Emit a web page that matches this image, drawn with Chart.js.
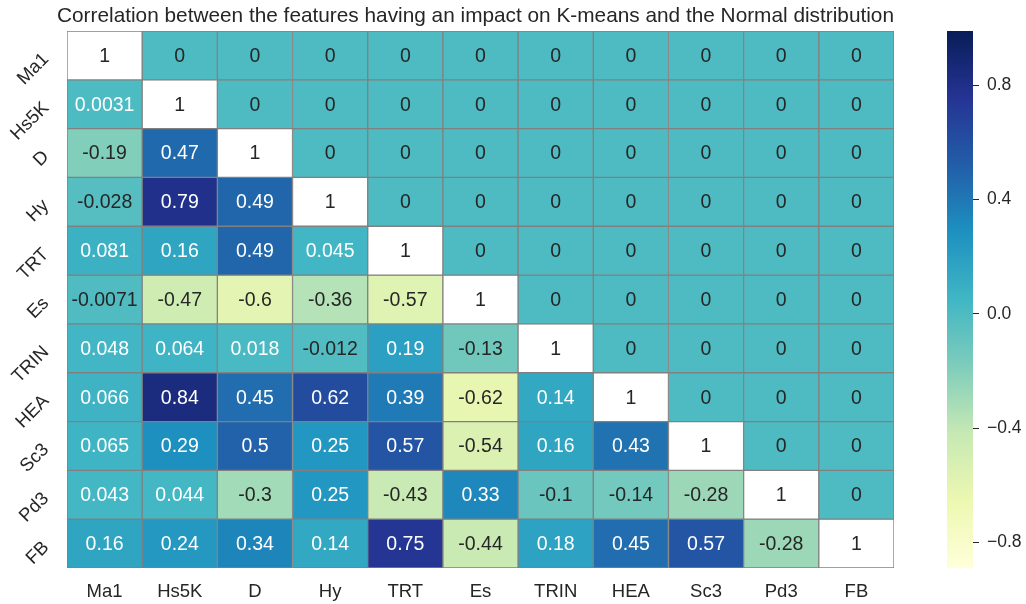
<!DOCTYPE html>
<html>
<head>
<meta charset="utf-8">
<script src="https://cdn.jsdelivr.net/npm/chart.js@4/dist/chart.umd.min.js"></script>
<style>
  html, body { margin: 0; padding: 0; background: #ffffff; }
  #wrap { position: relative; width: 1026px; height: 604px; overflow: hidden; }
  #heat { position: absolute; left: 0; top: 0; }
  #cbar { position: absolute; left: 900px; top: 0; }
</style>
</head>
<body>
<div id="wrap">
  <canvas id="heat" width="950" height="604"></canvas>
  <canvas id="cbar" width="126" height="604"></canvas>
</div>
<script>
// ---------------- DATA ----------------
const features = ["Ma1", "Hs5K", "D", "Hy", "TRT", "Es", "TRIN", "HEA", "Sc3", "Pd3", "FB"];

const rowMa1  = [1, 0, 0, 0, 0, 0, 0, 0, 0, 0, 0];
const rowHs5K = [0.0031, 1, 0, 0, 0, 0, 0, 0, 0, 0, 0];
const rowD    = [-0.19, 0.47, 1, 0, 0, 0, 0, 0, 0, 0, 0];
const rowHy   = [-0.028, 0.79, 0.49, 1, 0, 0, 0, 0, 0, 0, 0];
const rowTRT  = [0.081, 0.16, 0.49, 0.045, 1, 0, 0, 0, 0, 0, 0];
const rowEs   = [-0.0071, -0.47, -0.6, -0.36, -0.57, 1, 0, 0, 0, 0, 0];
const rowTRIN = [0.048, 0.064, 0.018, -0.012, 0.19, -0.13, 1, 0, 0, 0, 0];
const rowHEA  = [0.066, 0.84, 0.45, 0.62, 0.39, -0.62, 0.14, 1, 0, 0, 0];
const rowSc3  = [0.065, 0.29, 0.5, 0.25, 0.57, -0.54, 0.16, 0.43, 1, 0, 0];
const rowPd3  = [0.043, 0.044, -0.3, 0.25, -0.43, 0.33, -0.1, -0.14, -0.28, 1, 0];
const rowFB   = [0.16, 0.24, 0.34, 0.14, 0.75, -0.44, 0.18, 0.45, 0.57, -0.28, 1];

const matrixRows = [rowMa1, rowHs5K, rowD, rowHy, rowTRT, rowEs, rowTRIN, rowHEA, rowSc3, rowPd3, rowFB];

const colorbarMin = -0.89;
const colorbarMax = 0.99;
const colorbarTicks = [-0.8, -0.4, 0.0, 0.4, 0.8];

const titleText = "Correlation between the features having an impact on K-means and the Normal distribution";

// ---------------- STYLE ----------------
const FONT = "'Liberation Sans', Arial, Helvetica, sans-serif";
const TEXT_DARK = "#262626";
const YlGnBu = [
  [255,255,217],[237,248,177],[199,233,180],[127,205,187],[65,182,196],
  [29,145,192],[34,94,168],[37,52,148],[8,29,88]
];
function cmap(v) {
  let f = (v - colorbarMin) / (colorbarMax - colorbarMin);
  f = Math.max(0, Math.min(1, f));
  const pos = f * (YlGnBu.length - 1);
  const i = Math.min(Math.floor(pos), YlGnBu.length - 2);
  const t = pos - i;
  const a = YlGnBu[i], b = YlGnBu[i + 1];
  const c = a.map((x, k) => Math.round(x + (b[k] - x) * t));
  return `rgb(${c[0]},${c[1]},${c[2]})`;
}

// one dataset per matrix row: each cell is a floating bar spanning its row band
const datasets = matrixRows.map((row, i) => ({
  label: features[i],
  data: row.map(() => [i, i + 1]),
  values: row,
  backgroundColor: row.map((v, j) => (i === j ? "#ffffff" : cmap(v))),
  borderColor: "#808080",
  borderWidth: 1,
  borderSkipped: false,
  barPercentage: 1,
  categoryPercentage: 1,
  grouped: false
}));

const cellText = {
  id: "cellText",
  afterDatasetsDraw(chart) {
    const ctx = chart.ctx;
    ctx.save();
    ctx.font = `19.5px ${FONT}`;
    ctx.textAlign = "center";
    ctx.textBaseline = "middle";
    chart.data.datasets.forEach((ds, i) => {
      const meta = chart.getDatasetMeta(i);
      meta.data.forEach((el, j) => {
        const v = ds.values[j];
        const cy = (el.y + el.base) / 2;
        ctx.fillStyle = (i !== j && v > 0) ? "#ffffff" : TEXT_DARK;
        ctx.fillText(String(v), el.x, cy + 1);
      });
    });
    ctx.restore();
  }
};

const rowLabels = {
  id: "rowLabels",
  afterDraw(chart) {
    const ctx = chart.ctx;
    const ys = chart.scales.y;
    ctx.save();
    ctx.font = `18.5px ${FONT}`;
    ctx.fillStyle = TEXT_DARK;
    ctx.textAlign = "right";
    ctx.textBaseline = "middle";
    features.forEach((name, i) => {
      const cy = (ys.getPixelForValue(i) + ys.getPixelForValue(i + 1)) / 2;
      ctx.save();
      ctx.translate(46, cy + 1);
      ctx.rotate(-Math.PI / 4);
      ctx.fillText(name, 0, 0);
      ctx.restore();
    });
    ctx.restore();
  }
};

new Chart(document.getElementById("heat"), {
  type: "bar",
  data: { labels: features, datasets },
  options: {
    responsive: false,
    animation: false,
    devicePixelRatio: 1,
    layout: { padding: { left: 57, right: 56, top: 0, bottom: 0 } },
    plugins: {
      legend: { display: false },
      tooltip: { enabled: false },
      title: {
        display: true,
        text: titleText,
        color: TEXT_DARK,
        font: { family: FONT, size: 20.8, weight: "normal", lineHeight: 1.2 },
        padding: { top: 4, bottom: 2.04 }
      }
    },
    scales: {
      x: {
        type: "category",
        grid: { display: false },
        border: { display: false },
        ticks: { color: TEXT_DARK, font: { family: FONT, size: 18.5 }, padding: 5, maxRotation: 0, minRotation: 0 },
        afterFit(s) { s.height = 36; }
      },
      y: {
        type: "linear",
        min: 0,
        max: features.length,
        reverse: true,
        display: true,
        grid: { display: false },
        border: { display: false },
        ticks: { display: false },
        afterFit(s) { s.width = 10; }
      }
    }
  },
  plugins: [cellText, rowLabels]
});

// ---------------- COLORBAR ----------------
const gradientBar = {
  id: "gradientBar",
  beforeDatasetsDraw(chart) {
    const ctx = chart.ctx;
    const ys = chart.scales.y;
    const area = chart.chartArea;
    const yTop = ys.getPixelForValue(colorbarMax);
    const yBot = ys.getPixelForValue(colorbarMin);
    const g = ctx.createLinearGradient(0, yBot, 0, yTop);
    YlGnBu.forEach((c, k) => g.addColorStop(k / (YlGnBu.length - 1), `rgb(${c[0]},${c[1]},${c[2]})`));
    ctx.save();
    ctx.fillStyle = g;
    ctx.fillRect(area.left, yTop, area.right - area.left, yBot - yTop);
    ctx.restore();
  }
};

new Chart(document.getElementById("cbar"), {
  type: "bar",
  data: { labels: [""], datasets: [] },
  options: {
    responsive: false,
    animation: false,
    devicePixelRatio: 1,
    layout: { padding: { left: 47, right: 0, top: 31, bottom: 36 } },
    plugins: { legend: { display: false }, tooltip: { enabled: false }, title: { display: false } },
    scales: {
      x: { display: false },
      y: {
        type: "linear",
        position: "right",
        min: colorbarMin,
        max: colorbarMax,
        afterBuildTicks(s) { s.ticks = colorbarTicks.map(v => ({ value: v })); },
        grid: { drawOnChartArea: false, drawTicks: true, tickLength: 6, tickColor: TEXT_DARK, tickWidth: 1 },
        border: { display: false },
        ticks: {
          color: TEXT_DARK,
          font: { family: FONT, size: 17.5 },
          padding: 8,
          callback(v) { const s = Math.abs(v).toFixed(1); return v < -1e-9 ? "\u2212" + s : s; }
        },
        afterFit(s) { s.width = 53; }
      }
    }
  },
  plugins: [gradientBar]
});
</script>
</body>
</html>
